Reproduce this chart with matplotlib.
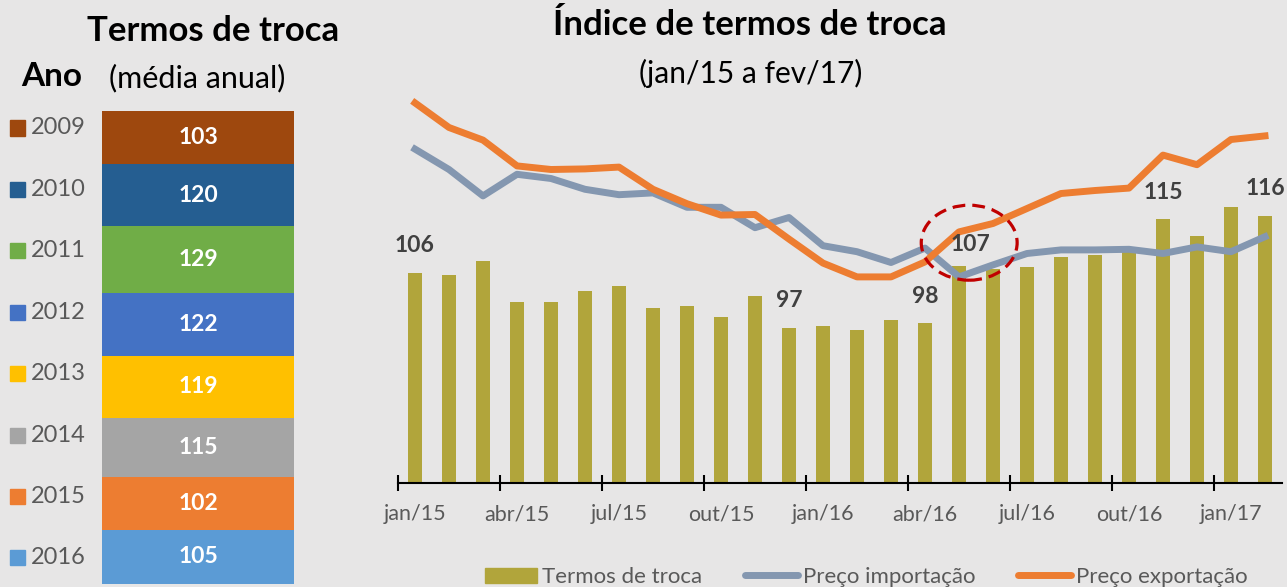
import matplotlib
matplotlib.use("Agg")
import matplotlib.pyplot as plt
from matplotlib.patches import Ellipse, Rectangle, Patch
from matplotlib.lines import Line2D

plt.rcParams["font.family"] = ["Lato", "DejaVu Sans"]

W, H = 1287, 587
BG = "#e7e6e6"
GRAY = "#595959"
DARK = "#404040"

# painel esquerdo: média anual
anos = ["2009", "2010", "2011", "2012", "2013", "2014", "2015", "2016"]
media_anual = [103, 120, 129, 122, 119, 115, 102, 105]
cores_ano = ["#9e480e", "#255e91", "#70ad47", "#4472c4",
             "#ffc000", "#a5a5a5", "#ed7d31", "#5b9bd5"]

# painel direito: jan/15 a fev/17
meses = ["jan/15", "fev/15", "mar/15", "abr/15", "mai/15", "jun/15",
         "jul/15", "ago/15", "set/15", "out/15", "nov/15", "dez/15",
         "jan/16", "fev/16", "mar/16", "abr/16", "mai/16", "jun/16",
         "jul/16", "ago/16", "set/16", "out/16", "nov/16", "dez/16",
         "jan/17", "fev/17"]
termos = [106.1, 105.8, 108.1, 101.2, 101.3, 103.0, 103.9, 100.3, 100.6,
          98.8, 102.3, 96.9, 97.3, 96.6, 98.2, 97.7, 107.2, 106.8, 107.1,
          108.7, 109.1, 109.5, 115.0, 112.3, 117.1, 115.6]
preco_imp = [126.7, 123.3, 118.9, 122.5, 121.8, 120.0, 119.1, 119.4, 117.0,
             117.0, 113.6, 115.3, 110.6, 109.6, 107.8, 110.2, 105.4, 107.4,
             109.3, 109.9, 109.9, 110.0, 109.3, 110.4, 109.6, 112.1]
preco_exp = [134.4, 130.3, 128.2, 123.9, 123.3, 123.4, 123.7, 120.0, 117.6,
             115.7, 115.8, 111.7, 107.7, 105.4, 105.4, 107.9, 112.9, 114.3,
             116.8, 119.3, 119.8, 120.2, 125.7, 124.1, 128.3, 128.9]
rotulo_idx = [0, 11, 15, 16, 22, 25]


def fx(x):
    return x / W


def fy(y):
    return 1 - y / H


fig = plt.figure(figsize=(W / 100, H / 100), dpi=100, facecolor=BG)

# ---- painel esquerdo ----
axl = fig.add_axes([fx(102), fy(584), 192 / W, 473 / H])
axl.set_facecolor(BG)
base = 0
for ano, v, c in reversed(list(zip(anos, media_anual, cores_ano))):
    axl.bar(0, v, bottom=base, width=1, color=c, linewidth=0)
    axl.text(0, base + v / 2, f"{v}", color="white", ha="center", va="center",
             fontsize=16.5, fontweight="bold")
    base += v
axl.set_xlim(-0.5, 0.5)
axl.set_ylim(0, base)
axl.axis("off")

fig.text(fx(213), fy(31), "Termos de troca", ha="center", va="center",
         fontsize=25, fontweight="bold", color="black")
fig.text(fx(52), fy(77), "Ano", ha="center", va="center",
         fontsize=24, fontweight="bold", color="black")
fig.text(fx(197), fy(78), "(média anual)", ha="center", va="center",
         fontsize=22, color="black")

for k, (ano, c) in enumerate(zip(anos, cores_ano)):
    yc = 128 + 61.4 * k
    fig.patches.append(Rectangle((fx(10), fy(yc + 7.5)), 15 / W, 15 / H,
                                 transform=fig.transFigure, color=c))
    fig.text(fx(31), fy(yc), ano, ha="left", va="center",
             fontsize=17, color=GRAY)

# ---- painel direito ----
ax = fig.add_axes([fx(398), fy(483.3), 884 / W, (483.3 - 90) / H])
ax.set_facecolor(BG)
x = list(range(len(meses)))
ax.bar(x, termos, width=0.4, color="#b1a53b", zorder=2)
ax.plot(x, preco_imp, color="#8497b0", lw=5, zorder=3, clip_on=False,
        solid_joinstyle="round")
ax.plot(x, preco_exp, color="#ed7d31", lw=5, zorder=4, clip_on=False,
        solid_joinstyle="round")

for i in rotulo_idx:
    dx, dy = (8, 15.5) if i == 16 else (0, 19.5)
    ax.annotate(f"{termos[i]:.0f}", (x[i], termos[i]), xytext=(dx, dy),
                textcoords="offset points", ha="center", va="center",
                fontsize=16.5, fontweight="bold", color=DARK, zorder=5)

ax.add_patch(Ellipse((16.3, 111.1), 2.82, 12.5, fill=False,
                     edgecolor="#c00000", lw=2.3, linestyle=(0, (4, 2.2)),
                     zorder=6))

ax.set_xlim(-0.5, 25.5)
ax.set_ylim(71, 136.55)
for s in ("left", "right", "top"):
    ax.spines[s].set_visible(False)
ax.spines["bottom"].set_linewidth(1.5)
ax.spines["bottom"].set_zorder(7)
ax.set_yticks([])
ax.set_xticks([v - 0.5 for v in range(0, 27, 3)])
ax.set_xticklabels([])
ax.tick_params(axis="x", which="major", direction="inout", length=11.5,
               width=1.5, color="black")
ax.set_xticks(x[::3], minor=True)
ax.set_xticklabels(meses[::3], minor=True)
ax.tick_params(axis="x", which="minor", length=0, pad=15, labelsize=15.5,
               labelcolor=GRAY)

fig.text(fx(750), fy(25), "Índice de termos de troca", ha="center",
         va="center", fontsize=25, fontweight="bold", color="black")
fig.text(fx(751), fy(73), "(jan/15 a fev/17)", ha="center", va="center",
         fontsize=21.5, color="black")

handles = [Patch(color="#b1a53b"),
           Line2D([], [], color="#8497b0", lw=5, solid_capstyle="round"),
           Line2D([], [], color="#ed7d31", lw=5, solid_capstyle="round")]
fig.legend(handles, ["Termos de troca", "Preço importação", "Preço exportação"],
           loc="center", bbox_to_anchor=(fx(866), fy(577)), ncol=3,
           frameon=False, fontsize=16, labelcolor=GRAY, handlelength=2.35,
           handleheight=0.65, handletextpad=0.22, columnspacing=1.95)

fig.savefig("out.png", dpi=100, facecolor=BG)
